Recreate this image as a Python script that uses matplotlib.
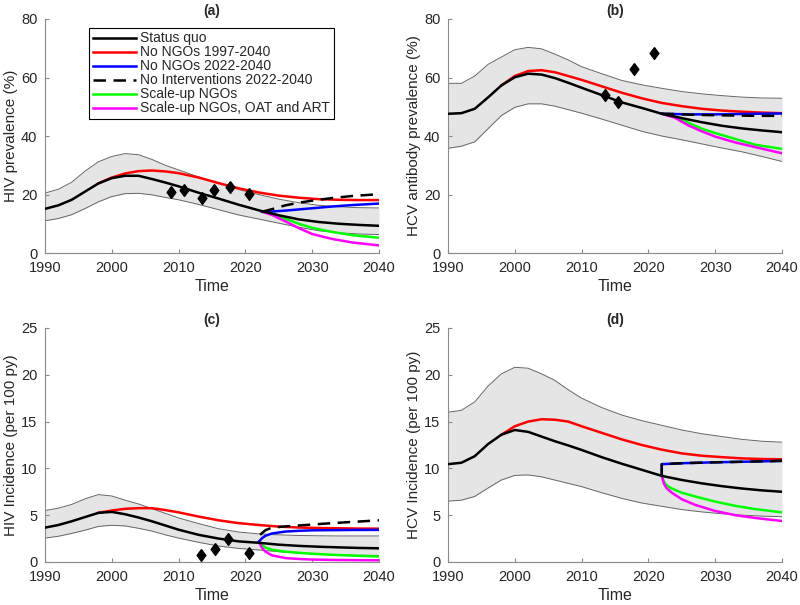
import matplotlib
matplotlib.use("Agg")
import matplotlib.pyplot as plt

plt.rcParams['font.family'] = ['Liberation Sans', 'DejaVu Sans']

# ---------------- data ----------------
YEARS = [1990, 1992, 1994, 1996, 1998, 2000, 2002, 2004, 2006, 2008, 2010,
         2013, 2016, 2019, 2022, 2025, 2028, 2031, 2034, 2037, 2040]
RED_YEARS = YEARS[4:]

# (a) HIV prevalence
a_sq = [15.1, 16.3, 18.2, 21.0, 23.8, 25.6, 26.4, 26.4, 25.3, 24.1, 22.8,
        20.6, 18.6, 16.5, 14.6, 12.9, 11.5, 10.6, 10.0, 9.6, 9.3]
a_hi = [20.5, 21.8, 24.2, 28.0, 31.2, 33.0, 34.0, 33.6, 32.0, 30.0, 28.4,
        26.0, 23.8, 21.7, 20.0, 18.4, 17.2, 16.3, 15.8, 15.5, 15.4]
a_lo = [11.0, 11.8, 13.1, 15.2, 17.5, 19.3, 20.3, 20.4, 19.9, 19.0, 18.2,
        16.6, 14.8, 13.0, 11.6, 10.2, 8.8, 7.6, 6.9, 6.5, 6.3]
a_red = [23.8, 25.8, 27.2, 28.0, 28.2, 27.9, 27.3, 25.8, 23.9, 22.1, 20.7,
         19.6, 18.9, 18.4, 18.2, 18.1, 18.1]
a_fut_years = [2022.5, 2024, 2026, 2028, 2030, 2033, 2036, 2040]
a_blue = [14.1, 14.2, 14.5, 14.9, 15.3, 15.9, 16.4, 16.9]
a_dash = [14.1, 15.0, 16.3, 17.2, 17.9, 18.8, 19.5, 20.1]
a_green = [14.1, 13.4, 11.7, 10.0, 8.6, 7.2, 6.1, 5.2]
a_mag = [14.1, 13.0, 10.8, 8.5, 6.5, 4.8, 3.6, 2.6]
a_obs_x = [2008.9, 2010.8, 2013.5, 2015.3, 2017.7, 2020.6]
a_obs_y = [20.8, 21.6, 18.8, 21.6, 22.4, 20.2]

# (b) HCV antibody prevalence
b_sq = [47.6, 47.8, 49.3, 53.2, 57.3, 60.1, 61.3, 61.0, 59.8, 58.2, 56.5,
        54.0, 51.5, 49.6, 47.6, 46.1, 44.7, 43.5, 42.6, 41.9, 41.3]
b_hi = [58.0, 58.0, 60.5, 64.5, 67.0, 69.5, 70.3, 69.8, 68.0, 66.0, 63.7,
        61.3, 59.0, 57.5, 56.3, 55.2, 54.4, 53.8, 53.3, 53.0, 52.9]
b_lo = [35.8, 36.5, 38.0, 42.5, 47.0, 49.8, 51.0, 51.0, 50.2, 49.0, 47.8,
        45.8, 43.7, 41.6, 40.0, 38.7, 37.3, 35.9, 34.6, 33.0, 31.3]
b_red = [57.3, 60.5, 62.2, 62.5, 61.8, 60.5, 59.2, 57.0, 54.8, 52.9, 51.3,
         50.2, 49.3, 48.7, 48.3, 48.0, 47.8]
b_fut_years = [2022, 2024, 2026, 2028, 2030, 2033, 2036, 2040]
b_blue = [47.6, 47.5, 47.4, 47.4, 47.4, 47.5, 47.6, 47.7]
b_dash = [47.6, 47.5, 47.3, 47.2, 47.1, 47.0, 46.9, 46.9]
b_green = [47.6, 46.6, 44.5, 42.5, 41.0, 39.0, 37.0, 35.6]
b_mag = [47.6, 46.2, 43.6, 41.6, 39.8, 37.8, 36.2, 34.1]
b_obs_x = [2013.5, 2015.5, 2017.8, 2020.8]
b_obs_y = [54.0, 51.5, 62.8, 68.5]

# (c) HIV incidence
c_sq = [3.67, 3.95, 4.35, 4.8, 5.25, 5.35, 5.1, 4.75, 4.35, 3.9, 3.45,
        2.9, 2.5, 2.2, 2.05, 1.85, 1.72, 1.63, 1.56, 1.5, 1.46]
c_hi = [5.5, 5.75, 6.15, 6.75, 7.2, 7.05, 6.6, 6.2, 5.7, 5.2, 4.7,
        4.1, 3.55, 3.2, 3.0, 2.9, 2.83, 2.8, 2.78, 2.78, 2.78]
c_lo = [2.55, 2.75, 3.05, 3.4, 3.8, 3.92, 3.85, 3.6, 3.3, 2.9, 2.55,
        2.1, 1.7, 1.45, 1.28, 1.1, 0.95, 0.83, 0.76, 0.72, 0.7]
c_red = [5.25, 5.5, 5.68, 5.75, 5.75, 5.55, 5.3, 4.85, 4.45, 4.15, 3.95,
         3.78, 3.68, 3.63, 3.6, 3.57, 3.56]
c_fut_years = [2022, 2022.5, 2023, 2024, 2026, 2028, 2030, 2033, 2036, 2040]
c_blue = [2.15, 2.55, 2.8, 3.05, 3.25, 3.33, 3.38, 3.4, 3.42, 3.43]
c_green = [2.15, 1.8, 1.55, 1.3, 1.1, 0.98, 0.88, 0.77, 0.68, 0.58]
c_mag = [2.15, 1.5, 1.1, 0.7, 0.42, 0.32, 0.26, 0.22, 0.2, 0.18]
c_dash_years = [2022.2, 2023, 2024, 2026, 2028, 2030, 2033, 2036, 2040]
c_dash = [2.9, 3.4, 3.68, 3.8, 3.9, 4.0, 4.15, 4.28, 4.45]
c_obs_x = [2013.4, 2015.4, 2017.4, 2020.6]
c_obs_y = [0.7, 1.35, 2.45, 1.0]

# (d) HCV incidence
d_sq = [10.45, 10.6, 11.3, 12.6, 13.6, 14.1, 13.9, 13.4, 12.9, 12.45, 11.97,
        11.2, 10.5, 9.85, 9.2, 8.76, 8.4, 8.1, 7.85, 7.65, 7.5]
d_hi = [16.0, 16.2, 17.1, 18.8, 20.1, 20.8, 20.7, 20.1, 19.4, 18.4, 17.5,
        16.5, 15.7, 15.1, 14.6, 14.1, 13.7, 13.4, 13.1, 12.9, 12.8]
d_lo = [6.5, 6.6, 7.0, 7.9, 8.76, 9.25, 9.3, 9.1, 8.75, 8.4, 8.05,
        7.4, 6.8, 6.3, 5.95, 5.6, 5.35, 5.15, 5.0, 4.9, 4.84]
d_red = [13.6, 14.5, 15.0, 15.25, 15.2, 15.0, 14.5, 13.8, 13.1, 12.5, 12.0,
         11.6, 11.35, 11.2, 11.07, 11.0, 10.97]
d_jump_years = [2022, 2022, 2025, 2030, 2035, 2040]
d_blue = [9.2, 10.45, 10.55, 10.65, 10.72, 10.8]
d_dash = [9.2, 10.45, 10.55, 10.65, 10.72, 10.8]
d_fut_years = [2022, 2022.3, 2022.7, 2023.5, 2025, 2027, 2030, 2033, 2036, 2040]
d_green = [9.2, 8.6, 8.2, 7.85, 7.4, 7.0, 6.45, 6.0, 5.65, 5.3]
d_mag = [9.2, 8.4, 7.9, 7.4, 6.7, 6.1, 5.45, 5.0, 4.7, 4.38]

LABELS = ["Status quo", "No NGOs 1997-2040", "No NGOs 2022-2040",
          "No Interventions 2022-2040", "Scale-up NGOs",
          "Scale-up NGOs, OAT and ART"]

# ---------------- drawing ----------------
fig = plt.figure(figsize=(8.0, 6.05), dpi=100)
W, H = 0.4175, 0.3868
pos = {'a': [0.05625, 0.5818, W, H], 'b': [0.56, 0.5818, W, H],
       'c': [0.05625, 0.0711, W, H], 'd': [0.56, 0.0711, W, H]}

SPINE = '#8a8a8a'
TXT = '#262626'
LW = 1.8
DASH = (0, (5, 3))
DIAMOND = [(0, 1.15), (0.85, 0), (0, -1.15), (-0.85, 0), (0, 1.15)]


def panel(key, title, ylabel, ymax, ystep, sq, hi, lo, red,
          blue_xy, dash_xy, green_xy, mag_xy, obs=None):
    ax = fig.add_axes(pos[key])
    ax.fill_between(YEARS, lo, hi, color='#e5e5e5', lw=0, zorder=1)
    ax.plot(YEARS, hi, color='#666666', lw=0.7, zorder=2)
    ax.plot(YEARS, lo, color='#666666', lw=0.7, zorder=2)
    h_red, = ax.plot(RED_YEARS, red, color='#ff0000', lw=LW, zorder=3)
    h_sq, = ax.plot(YEARS, sq, color='black', lw=LW, zorder=4)
    h_g, = ax.plot(*green_xy, color='#00ff00', lw=LW, zorder=3)
    h_m, = ax.plot(*mag_xy, color='#ff00ff', lw=LW, zorder=3)
    h_b, = ax.plot(*blue_xy, color='#0000ff', lw=LW, zorder=3)
    h_d, = ax.plot(*dash_xy, color='black', lw=LW, ls=DASH, zorder=5)
    if obs is not None:
        ax.plot(obs[0], obs[1], ls='none', marker=DIAMOND, ms=8.5,
                color='black', zorder=6)
    ax.set_xlim(1990, 2040)
    ax.set_ylim(0, ymax)
    ax.set_xticks(range(1990, 2041, 10))
    ax.set_yticks([i * ystep for i in range(int(ymax / ystep) + 1)])
    for s in ['top', 'right']:
        ax.spines[s].set_visible(False)
    for s in ['left', 'bottom']:
        ax.spines[s].set_color(SPINE)
        ax.spines[s].set_linewidth(0.8)
    ax.tick_params(direction='in', length=3, width=0.8, color=SPINE,
                   labelsize=10.5, labelcolor=TXT, pad=5.5)
    ax.set_xlabel('Time', fontsize=11.5, color=TXT, labelpad=3)
    ax.set_ylabel(ylabel, fontsize=11, color=TXT, labelpad=2)
    ax.set_title(title, fontsize=10, fontweight='bold', color=TXT, pad=3)
    return ax, [h_sq, h_red, h_b, h_d, h_g, h_m]


ax_a, handles = panel('a', '(a)', 'HIV prevalence (%)', 80, 20,
                      a_sq, a_hi, a_lo, a_red,
                      (a_fut_years, a_blue), (a_fut_years, a_dash),
                      (a_fut_years, a_green), (a_fut_years, a_mag),
                      (a_obs_x, a_obs_y))
panel('b', '(b)', 'HCV antibody prevalence (%)', 80, 20,
      b_sq, b_hi, b_lo, b_red,
      (b_fut_years, b_blue), (b_fut_years, b_dash),
      (b_fut_years, b_green), (b_fut_years, b_mag),
      (b_obs_x, b_obs_y))
panel('c', '(c)', 'HIV Incidence (per 100 py)', 25, 5,
      c_sq, c_hi, c_lo, c_red,
      (c_fut_years, c_blue), (c_dash_years, c_dash),
      (c_fut_years, c_green), (c_fut_years, c_mag),
      (c_obs_x, c_obs_y))
panel('d', '(d)', 'HCV Incidence (per 100 py)', 25, 5,
      d_sq, d_hi, d_lo, d_red,
      (d_jump_years, d_blue), (d_jump_years, d_dash),
      (d_fut_years, d_green), (d_fut_years, d_mag))

leg = ax_a.legend(handles, LABELS, loc='upper left',
                  bbox_to_anchor=(0.132, 0.962), fontsize=10,
                  frameon=True, fancybox=False, framealpha=1,
                  edgecolor='black', labelspacing=0.0, handlelength=3.1,
                  handletextpad=0.35, borderpad=0.25, borderaxespad=0)
leg.get_frame().set_linewidth(0.8)
for t in leg.get_texts():
    t.set_color(TXT)

fig.savefig('out.png', dpi=100)
